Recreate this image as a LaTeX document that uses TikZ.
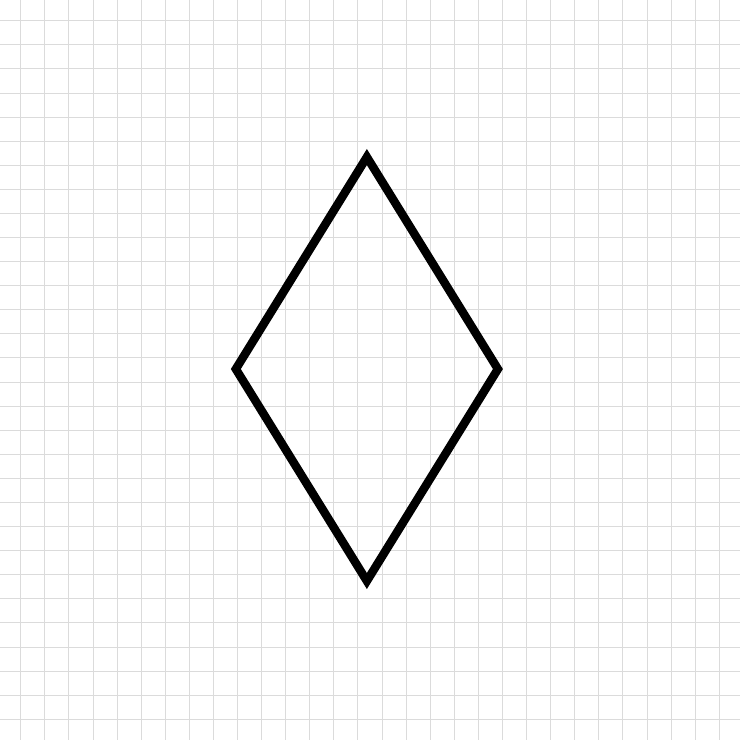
\documentclass[tikz,border=0pt]{standalone}
\usepackage{tikz}
\usetikzlibrary{calc}
\tikzset{gridline/.style={gray!28,line width=1.1pt},
         rhombus/.style={black,line width=10pt,line join=miter}}

\begin{document}
\begin{tikzpicture}
            \useasboundingbox (0,0) rectangle (30.72,30.72);
            \fill[white] (0,0) rectangle (30.72,30.72);
            \foreach \k in {0,...,29} {
                \draw[gridline] (0.86+\k,0) -- (0.86+\k,30.72);
                \draw[gridline] (0,0.86+\k) -- (30.72,0.86+\k);
            }
            \coordinate (top) at (15.23,24.20);
            \coordinate (right) at (20.67,15.40);
            \coordinate (bottom) at (15.23,6.60);
            \coordinate (left) at (9.79,15.40);
            \draw[rhombus] (top) -- (right) -- (bottom) -- (left) -- cycle;
        \end{tikzpicture}
\end{document}
